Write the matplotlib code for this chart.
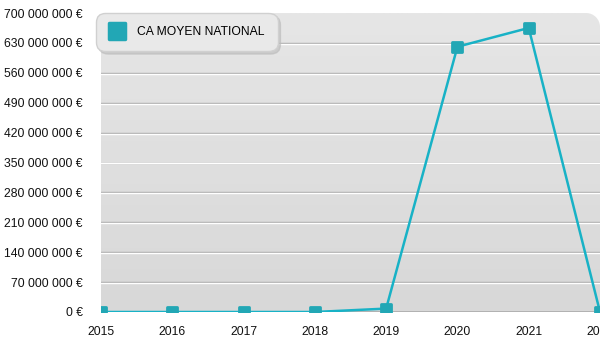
import numpy as np
import matplotlib
matplotlib.use("Agg")
import matplotlib.pyplot as plt
from matplotlib.path import Path
from matplotlib.patches import PathPatch
from matplotlib.markers import MarkerStyle
from matplotlib.ticker import FuncFormatter

plt.rcParams['font.family'] = ['Liberation Sans', 'DejaVu Sans']

years = [2015, 2016, 2017, 2018, 2019, 2020, 2021, 2022]
ca_moyen = [0, 0, 0, 0, 8_000_000, 621_000_000, 665_000_000, 0]
y_ticks = [i * 70_000_000 for i in range(11)]
series_name = "CA MOYEN NATIONAL"

line_color = "#18b2c6"
marker_color = "#22a7b5"

W, H = 600, 350
ax_l, ax_b, ax_w, ax_h = 101, 38, 499, 299

fig = plt.figure(figsize=(W / 100, H / 100), dpi=100)
ax = fig.add_axes([ax_l / W, ax_b / H, ax_w / W, ax_h / H])
ax.set_xlim(2015, 2022)
ax.set_ylim(0, 700_000_000)

# gradient plot background, top corners rounded
grad = np.linspace(0, 1, 256).reshape(-1, 1)
bg = ax.imshow(grad, cmap=matplotlib.colors.LinearSegmentedColormap.from_list(
    "bg", ["#d8d8d8", "#e6e6e6"]), aspect="auto", origin="lower",
    extent=[2015, 2022, 0, 700_000_000], zorder=0)

r = 14  # corner radius in pixels
rx, ry = r / ax_w, r / ax_h
k = 0.5523
verts = [(0, 0), (1, 0), (1, 1 - ry),
         (1, 1 - ry + k * ry), (1 - rx + k * rx, 1), (1 - rx, 1),
         (rx, 1),
         (rx - k * rx, 1), (0, 1 - ry + k * ry), (0, 1 - ry),
         (0, 0)]
codes = [Path.MOVETO, Path.LINETO, Path.LINETO,
         Path.CURVE4, Path.CURVE4, Path.CURVE4,
         Path.LINETO,
         Path.CURVE4, Path.CURVE4, Path.CURVE4,
         Path.CLOSEPOLY]
clip = PathPatch(Path(verts, codes), transform=ax.transAxes,
                 facecolor="none", edgecolor="none")
ax.add_patch(clip)
bg.set_clip_path(clip)
ax.set_facecolor("white")

# embossed grid lines: gray line with a white highlight just beneath
for t in y_ticks[1:-1]:
    ax.axhline(t, color="#ababab", lw=1.0, zorder=1)
    ax.axhline(t - 2_300_000, color="white", lw=1.0, zorder=1)
ax.axhline(0, color="#ababab", lw=1.2, zorder=1)

ax.plot(years, ca_moyen, color=line_color, lw=1.8, zorder=3)
msty = MarkerStyle("s", joinstyle="round")
ax.plot(years, ca_moyen, linestyle="none", marker=msty, markersize=7.5,
        markerfacecolor=marker_color, markeredgecolor=marker_color,
        markeredgewidth=2.0, zorder=4)

for s in ax.spines.values():
    s.set_visible(False)
ax.set_yticks(y_ticks)
ax.yaxis.set_major_formatter(FuncFormatter(
    lambda v, p: "{:,.0f} €".format(v).replace(",", " ")))
ax.set_xticks(years)
ax.set_xticklabels([str(y) for y in years])
ax.tick_params(axis="both", length=0, labelsize=8.7, colors="#111111")
ax.tick_params(axis="y", pad=13)
ax.tick_params(axis="x", pad=10)

handle = plt.Line2D([], [], linestyle="none", marker=msty, markersize=12,
                    markerfacecolor=marker_color, markeredgecolor=marker_color,
                    markeredgewidth=2.5)
leg = ax.legend([handle], [series_name], loc="upper left",
                bbox_to_anchor=(-0.008, 0.997), fontsize=8.7, frameon=True,
                fancybox=True, shadow={"color": "#bbbbbb", "alpha": 0.6},
                facecolor="#e9e9e9", edgecolor="#d0d0d0", framealpha=1,
                borderpad=0.9, handletextpad=1.0, handlelength=1.3,
                borderaxespad=0.1)
leg.get_frame().set_boxstyle("round,pad=0.2,rounding_size=0.8")
leg.set_zorder(5)

fig.savefig("out.png", dpi=100)
